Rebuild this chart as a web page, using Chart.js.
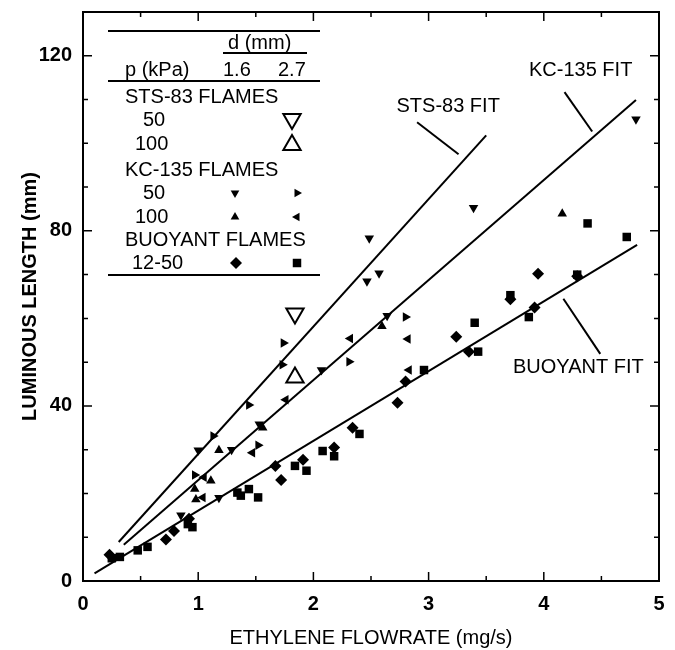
<!DOCTYPE html>
<html>
<head>
<meta charset="utf-8">
<script src="https://cdn.jsdelivr.net/npm/chart.js@4/dist/chart.umd.min.js"></script>
<style>
  body { margin: 0; background: #fff; }
  #wrap { width: 675px; height: 650px; }
</style>
</head>
<body>
<div id="wrap"><canvas id="chart" width="675" height="650"></canvas></div>
<script>
// Axis ticks
const xTicks = [0, 1, 2, 3, 4, 5];
const yTicks = [0, 40, 80, 120];

// STS-83 flames (open triangles, d = 2.7 mm)
const sts50 = [{x: 1.84, y: 61.1}];
const sts100 = [{x: 1.84, y: 46.5}];

// KC-135 flames, 50 kPa
const kc50d16 = [
  {x: 0.85, y: 15.0}, {x: 1.00, y: 29.9}, {x: 1.29, y: 30.0}, {x: 1.18, y: 19.0},
  {x: 1.53, y: 35.8}, {x: 2.07, y: 48.2}, {x: 2.465, y: 68.5}, {x: 2.57, y: 70.3},
  {x: 2.485, y: 78.3}, {x: 2.64, y: 60.6}, {x: 3.39, y: 85.3}, {x: 4.80, y: 105.5}
];
const kc50d27 = [
  {x: 0.97, y: 24.2}, {x: 1.13, y: 33.1}, {x: 1.44, y: 40.2}, {x: 1.52, y: 31.0},
  {x: 1.73, y: 49.4}, {x: 1.74, y: 54.4}, {x: 2.31, y: 50.1}, {x: 2.80, y: 60.3}
];
// KC-135 flames, 100 kPa
const kc100d16 = [
  {x: 0.98, y: 18.6}, {x: 0.97, y: 21.0}, {x: 1.11, y: 22.9}, {x: 1.18, y: 29.9},
  {x: 1.56, y: 35.0}, {x: 2.595, y: 58.2}, {x: 4.16, y: 83.9}
];
const kc100d27 = [
  {x: 1.04, y: 19.1}, {x: 1.05, y: 23.7}, {x: 1.47, y: 29.3}, {x: 1.76, y: 41.4},
  {x: 2.32, y: 55.4}, {x: 2.82, y: 55.3}, {x: 2.83, y: 48.2}
];

// Buoyant flames, 12-50 kPa
const buoyD16 = [
  {x: 0.23, y: 6.0}, {x: 0.72, y: 9.5}, {x: 0.79, y: 11.4}, {x: 0.92, y: 14.2},
  {x: 1.67, y: 26.3}, {x: 1.72, y: 23.1}, {x: 1.91, y: 27.7}, {x: 2.18, y: 30.5},
  {x: 2.34, y: 35.0}, {x: 2.73, y: 40.7}, {x: 2.80, y: 45.6}, {x: 3.24, y: 55.8},
  {x: 3.35, y: 52.4}, {x: 3.71, y: 64.4}, {x: 3.92, y: 62.5}, {x: 3.95, y: 70.2},
  {x: 4.29, y: 69.6}
];
const buoyD27 = [
  {x: 0.25, y: 5.2}, {x: 0.32, y: 5.5}, {x: 0.475, y: 7.0}, {x: 0.56, y: 7.8},
  {x: 0.91, y: 13.0}, {x: 0.95, y: 12.3}, {x: 1.34, y: 20.2}, {x: 1.37, y: 19.5},
  {x: 1.44, y: 21.0}, {x: 1.52, y: 19.1}, {x: 1.84, y: 26.3}, {x: 1.94, y: 25.2},
  {x: 2.08, y: 29.7}, {x: 2.18, y: 28.5}, {x: 2.40, y: 33.6}, {x: 2.96, y: 48.2},
  {x: 3.40, y: 59.0}, {x: 3.43, y: 52.4}, {x: 3.71, y: 65.3}, {x: 3.87, y: 60.3},
  {x: 4.29, y: 70.0}, {x: 4.38, y: 81.7}, {x: 4.72, y: 78.6}
];

// Fit lines
const stsFit = [{x: 0.31, y: 8.9}, {x: 3.50, y: 101.8}];
const kcFit = [{x: 0.354, y: 8.3}, {x: 4.80, y: 109.9}];
const buoyFit = [{x: 0.10, y: 1.75}, {x: 4.81, y: 76.8}];

// Labels of the fits, with leader lines
const fitLabels = ['STS-83 FIT', 'KC-135 FIT', 'BUOYANT FIT'];
const fitLabelPos = [{x: 3.17, y: 108.4}, {x: 4.32, y: 116.6}, {x: 4.30, y: 48.8}];
const stsLeader = [{x: 2.90, y: 104.8}, {x: 3.26, y: 97.5}];
const kcLeader = [{x: 4.18, y: 111.7}, {x: 4.42, y: 102.7}];
const buoyLeader = [{x: 4.17, y: 64.5}, {x: 4.49, y: 51.9}];

const FONT = '"Liberation Sans", Arial, sans-serif';

function pts(data, style, rotation, radius) {
  return {
    type: 'scatter', data: data,
    pointStyle: style, rotation: rotation, radius: radius,
    backgroundColor: '#000', borderColor: '#000', borderWidth: 0
  };
}
function openTri(data, rotation) {
  return {
    type: 'scatter', data: data,
    pointStyle: 'triangle', rotation: rotation, radius: 10,
    backgroundColor: '#fff', borderColor: '#000', borderWidth: 2
  };
}
function line(data, width) {
  return {
    type: 'scatter', data: data, showLine: true,
    borderColor: '#000', borderWidth: width, pointRadius: 0, fill: false
  };
}

// Frame with inward ticks, legend table and fit labels
const decor = {
  id: 'decor',
  afterDraw(chart) {
    const ctx = chart.ctx;
    const a = chart.chartArea;
    const xs = chart.scales.x, ys = chart.scales.y;
    ctx.save();
    ctx.strokeStyle = '#000';
    ctx.lineWidth = 2;
    ctx.strokeRect(a.left, a.top, a.right - a.left, a.bottom - a.top);
    ctx.lineWidth = 1.5;
    ctx.beginPath();
    for (let v = 0.5; v < 5; v += 0.5) {
      const len = Number.isInteger(v) ? 9 : 5;
      const px = xs.getPixelForValue(v);
      ctx.moveTo(px, a.bottom); ctx.lineTo(px, a.bottom - len);
      ctx.moveTo(px, a.top); ctx.lineTo(px, a.top + len);
    }
    for (let v = 10; v < 130; v += 10) {
      const len = v % 40 === 0 ? 9 : 5;
      const py = ys.getPixelForValue(v);
      ctx.moveTo(a.left, py); ctx.lineTo(a.left + len, py);
      ctx.moveTo(a.right, py); ctx.lineTo(a.right - len, py);
    }
    ctx.stroke();

    // fit labels
    ctx.fillStyle = '#000';
    ctx.font = '20px ' + FONT;
    ctx.textAlign = 'center';
    ctx.textBaseline = 'middle';
    fitLabels.forEach((t, i) => {
      ctx.fillText(t, xs.getPixelForValue(fitLabelPos[i].x), ys.getPixelForValue(fitLabelPos[i].y));
    });

    // legend table
    ctx.lineWidth = 2;
    ctx.beginPath();
    [31, 81, 275].forEach(y => { ctx.moveTo(108, y); ctx.lineTo(320, y); });
    ctx.moveTo(223, 53); ctx.lineTo(307, 53);
    ctx.stroke();

    ctx.textAlign = 'left';
    ctx.fillText('d (mm)', 228, 43);
    ctx.fillText('p (kPa)', 125, 70);
    ctx.fillText('1.6', 223, 70);
    ctx.fillText('2.7', 278, 70);
    ctx.fillText('STS-83 FLAMES', 125, 97);
    ctx.fillText('50', 143, 120);
    ctx.fillText('100', 135, 144);
    ctx.fillText('KC-135 FLAMES', 125, 170);
    ctx.fillText('50', 143, 193);
    ctx.fillText('100', 135, 217);
    ctx.fillText('BUOYANT FLAMES', 125, 240);
    ctx.fillText('12-50', 132, 263);

    const draw = Chart.helpers.drawPoint;
    const mark = (style, rot, r, x, y, open) => {
      ctx.fillStyle = open ? '#fff' : '#000';
      ctx.strokeStyle = '#000';
      ctx.lineWidth = open ? 2 : 0;
      draw(ctx, {pointStyle: style, rotation: rot, radius: r, borderWidth: open ? 2 : 0}, x, y);
    };
    mark('triangle', 180, 10, 292, 119, true);
    mark('triangle', 0, 10, 292, 145, true);
    mark('triangle', 180, 5, 235, 193, false);
    mark('triangle', 90, 5, 297, 193, false);
    mark('triangle', 0, 5, 235, 217, false);
    mark('triangle', -90, 5, 297, 217, false);
    mark('rectRot', 0, 6, 236, 263, false);
    mark('rect', 0, 6, 297, 263, false);
    ctx.restore();
  }
};

new Chart(document.getElementById('chart'), {
  type: 'scatter',
  data: {
    datasets: [
      line(stsFit, 2), line(kcFit, 2), line(buoyFit, 2),
      line(stsLeader, 2), line(kcLeader, 2), line(buoyLeader, 2),
      pts(buoyD16, 'rectRot', 0, 6),
      pts(buoyD27, 'rect', 0, 6),
      pts(kc50d16, 'triangle', 180, 5.5),
      pts(kc50d27, 'triangle', 90, 5.5),
      pts(kc100d16, 'triangle', 0, 5.5),
      pts(kc100d27, 'triangle', -90, 5.5),
      openTri(sts50, 180),
      openTri(sts100, 0)
    ]
  },
  options: {
    responsive: false,
    animation: false,
    layout: { padding: { top: 2, right: 16, left: 0, bottom: 0 } },
    plugins: { legend: { display: false }, tooltip: { enabled: false } },
    scales: {
      x: {
        type: 'linear', min: 0, max: 5,
        afterBuildTicks: s => { s.ticks = xTicks.map(v => ({value: v})); },
        afterFit: s => { s.height = 69; s.paddingLeft = 0; s.paddingRight = 0; },
        grid: { display: false, drawTicks: false },
        border: { display: false },
        ticks: { color: '#000', padding: 11, maxRotation: 0, font: { family: FONT, size: 20, weight: 'bold' } },
        title: { display: true, text: 'ETHYLENE FLOWRATE (mg/s)', color: '#000',
                 padding: { top: 0, bottom: 0 }, font: { family: FONT, size: 20 } }
      },
      y: {
        type: 'linear', min: 0, max: 130,
        afterBuildTicks: s => { s.ticks = yTicks.map(v => ({value: v})); },
        afterFit: s => { s.width = 83; s.paddingTop = 0; s.paddingBottom = 0; },
        grid: { display: false, drawTicks: false },
        border: { display: false },
        ticks: { color: '#000', padding: 11, font: { family: FONT, size: 20, weight: 'bold' } },
        title: { display: true, text: 'LUMINOUS LENGTH (mm)', color: '#000',
                 padding: { top: 18, bottom: 0 }, font: { family: FONT, size: 20, weight: 'bold' } }
      }
    }
  },
  plugins: [decor]
});
</script>
</body>
</html>
